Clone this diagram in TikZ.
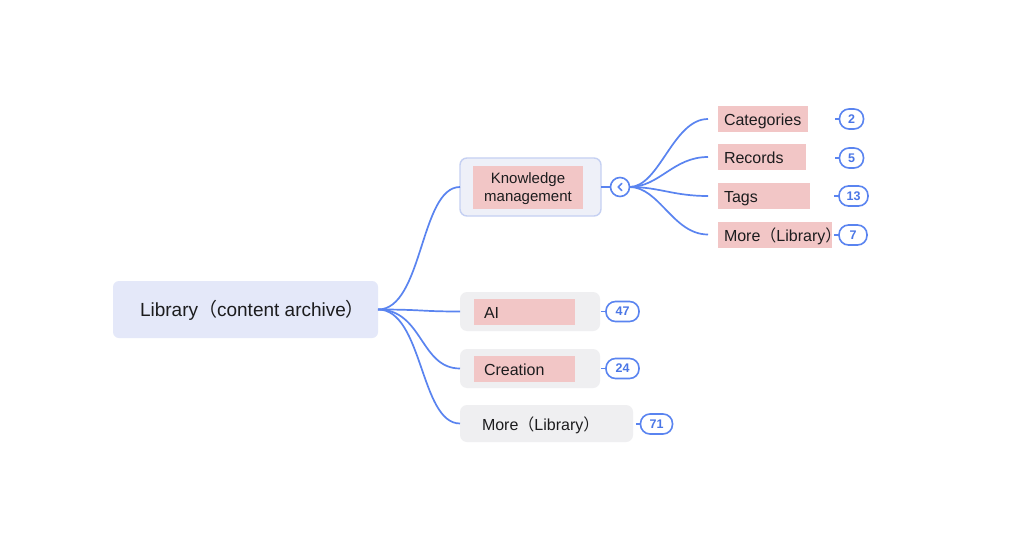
\documentclass[tikz,border=0pt]{standalone}
\usepackage{fontspec}
\usetikzlibrary{calc}
\setmainfont{Liberation Sans}
\newfontfamily\cjk{Noto Sans CJK SC}
\definecolor{linec}{RGB}{90,132,240}
\definecolor{rootfill}{RGB}{228,232,249}
\definecolor{kmfill}{RGB}{238,240,248}
\definecolor{kmborder}{RGB}{197,208,242}
\definecolor{grayfill}{RGB}{239,239,241}
\definecolor{pinkfill}{RGB}{242,198,198}
\definecolor{txt}{RGB}{28,28,30}
\definecolor{badgetxt}{RGB}{74,118,230}
\newcommand{\fp}[1]{{\cjk #1}}
\begin{document}
\begin{tikzpicture}[x=1pt,y=-1pt,
  every node/.style={inner sep=0pt, outer sep=0pt, text=txt},
  rootbox/.style={rounded corners=6pt, fill=rootfill, minimum width=265pt, minimum height=57pt, text height=14pt, text depth=0pt, font=\fontsize{19}{22}\selectfont},
  kmbox/.style={rounded corners=7pt, fill=kmfill, draw=kmborder, line width=1.4pt, minimum width=141pt, minimum height=58pt},
  graybox/.style={rounded corners=7pt, fill=grayfill, minimum height=39pt},
  pinkbox/.style={fill=pinkfill, anchor=west, align=left, inner xsep=6pt, minimum height=26pt, text height=13pt, text depth=0pt, font=\fontsize{16}{19}\selectfont},
  lbl/.style={anchor=west, text height=13pt, text depth=0pt, font=\fontsize{16}{19}\selectfont},
  badge/.style={draw=linec, line width=1.6pt, rounded corners=9.5pt, minimum height=20pt, text=badgetxt, font=\fontsize{12.5}{14}\selectfont\bfseries},
  conn/.style={draw=linec, line width=1.7pt},
  stub/.style={draw=linec, line width=1.5pt}
]
\useasboundingbox (0,0) rectangle (1024,556);
\fill[white] (0,0) rectangle (1024,556);

% root
\node[rootbox] (root) at (245.5,309.5) {\hspace*{14pt}Library\fp{（}content archive\fp{）}};

% knowledge management
\node[kmbox] (km) at (530.5,187) {};
\node[fill=pinkfill, minimum width=110pt, minimum height=43pt, align=center, font=\fontsize{15}{18}\selectfont] (kmt) at (528,187.5) {\rule{0pt}{13pt}Knowledge\\management};
\node[circle, draw=linec, line width=1.6pt, fill=white, minimum size=19pt] (tog) at (620,187) {};
\draw[linec, line width=1.5pt, line cap=round, line join=round] ($(tog.center)+(1.8,-3.5)$) -- ($(tog.center)+(-1.8,0)$) -- ($(tog.center)+(1.8,3.5)$);

% AI / Creation / More
\node[graybox, minimum width=140pt] (ai) at (530,311.5) {};
\node[pinkbox, minimum width=101pt, text width=81pt, inner xsep=10pt] (ait) at (474,312) {AI};
\node[graybox, minimum width=140pt] (cr) at (530,368.5) {};
\node[pinkbox, minimum width=101pt, text width=81pt, inner xsep=10pt] (crt) at (474,369) {Creation};
\node[graybox, minimum width=173pt, minimum height=37pt] (mo) at (546.5,423.5) {};
\node[lbl] (mot) at (482,424) {More\fp{（}Library\fp{）}};

% children of KM
\node[pinkbox, text width=78pt] (cat) at (718,119) {Categories};
\node[pinkbox, text width=76pt] (rec) at (718,157) {Records};
\node[pinkbox, text width=80pt] (tag) at (718,196) {Tags};
\node[pinkbox, text width=102pt] (mol) at (718,234.5) {More\fp{（}Library\fp{）}};

% badges
\node[badge, minimum width=24pt] (b2) at (851.5,119) {2};
\node[badge, minimum width=24pt] (b5) at (851.5,158) {5};
\node[badge, minimum width=29pt] (b13) at (853.5,196) {13};
\node[badge, minimum width=28pt] (b7) at (853,235) {7};
\node[badge, minimum width=33pt] (b47) at (622.5,311.5) {47};
\node[badge, minimum width=33pt] (b24) at (622.5,368.5) {24};
\node[badge, minimum width=32pt] (b71) at (656.5,424) {71};

% stubs
\foreach \b in {b2,b5,b13,b7,b47,b24,b71}{
  \draw[stub] (\b.west) -- ++(-5,0);
}

% root connectors
\foreach \t in {km,ai,cr,mo}{
  \draw[conn] (root.east) .. controls +(45,0) and +(-40,0) .. (\t.west);
}
% km to toggle
\draw[conn] (km.east) -- (tog.west);
% toggle to children
\foreach \t in {cat,rec,tag,mol}{
  \draw[conn, shorten >=10pt] (tog.east) .. controls +(30,0) and +(-45,0) .. (\t.west);
}
\end{tikzpicture}
\end{document}
